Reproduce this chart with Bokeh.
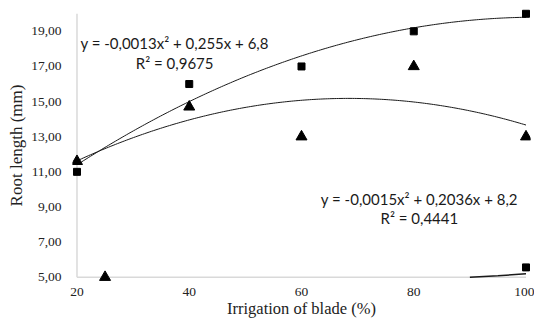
import numpy as np
from bokeh.plotting import figure
from bokeh.models import FixedTicker, Label, Range1d
from bokeh.embed import file_html
from bokeh.resources import INLINE

# ---- data ----
irrigation = [20, 40, 60, 80, 100]
square_len = [11.0, 16.0, 17.0, 19.0, 20.0]
triangle_len = [11.6, 14.7, 13.0, 17.0, 13.0]
stray_tri_x = [25]
stray_tri_y = [5.0]
stray_sq_x = [100]
stray_sq_y = [5.56]
stray_line_x = [90, 95, 100]
stray_line_y = [5.0, 5.08, 5.2]
x_min, x_max = 20, 100
y_min, y_max = 5, 20
x_ticks = [20, 40, 60, 80, 100]
y_ticks = [5, 7, 9, 11, 13, 15, 17, 19]
y_tick_labels = ["5,00", "7,00", "9,00", "11,00", "13,00", "15,00", "17,00", "19,00"]
eq_square = ["y = -0,0013x\u00b2 + 0,255x + 6,8", "R\u00b2 = 0,9675"]
eq_triangle = ["y = -0,0015x\u00b2 + 0,2036x + 8,2", "R\u00b2 = 0,4441"]

SERIF = "Liberation Serif"
SANS = "Lato"

p = figure(width=534, height=320, output_backend="svg", toolbar_location=None,
           x_range=Range1d(x_min - 0.8, x_max + 0.8), y_range=Range1d(y_min - 0.3, y_max + 0.3))
p.min_border_left = 72
p.min_border_right = 4
p.min_border_top = 8
p.min_border_bottom = 36
p.outline_line_color = None
p.grid.visible = False
p.background_fill_color = "white"
p.border_fill_color = "white"

for ax in (p.xaxis[0], p.yaxis[0]):
    ax.axis_line_color = None
    ax.major_tick_line_color = None
    ax.minor_tick_line_color = None
    ax.major_tick_out = 0
    ax.major_tick_in = 0
    ax.major_label_text_font = SERIF
    ax.major_label_text_font_size = "13.5px"
    ax.major_label_text_color = "#222222"
    ax.axis_label_text_font = SERIF
    ax.axis_label_text_font_style = "normal"
    ax.axis_label_text_color = "#222222"

p.xaxis[0].ticker = FixedTicker(ticks=x_ticks)
p.xaxis[0].major_label_standoff = 5
p.xaxis[0].axis_label = "Irrigation of blade (%)"
p.xaxis[0].axis_label_text_font_size = "16.5px"
p.xaxis[0].axis_label_standoff = 0

p.yaxis[0].ticker = FixedTicker(ticks=y_ticks)
p.yaxis[0].major_label_overrides = {t: l for t, l in zip(y_ticks, y_tick_labels)}
p.yaxis[0].major_label_standoff = 11
p.yaxis[0].axis_label = "Root length (mm)"
p.yaxis[0].axis_label_text_font_size = "17px"
p.yaxis[0].axis_label_standoff = 2

# axis lines at the data bounds
p.segment(x0=[x_min, x_min], y0=[y_min, y_min], x1=[x_min, x_max], y1=[y_max, y_min],
          line_color="#d9d9d9", line_width=1.5)

# trend lines (quadratic fits of the series)
xs = np.linspace(irrigation[0], irrigation[-1], 200)
for ys in (square_len, triangle_len):
    c = np.polyfit(irrigation, ys, 2)
    p.line(xs, np.polyval(c, xs), line_color="#1a1a1a", line_width=1)
p.line(stray_line_x, stray_line_y, line_color="#1a1a1a", line_width=1.5)

p.scatter(irrigation, square_len, marker="square", size=7, color="black")
p.scatter(stray_sq_x, stray_sq_y, marker="square", size=7, color="black")
p.scatter(irrigation, triangle_len, marker="triangle", size=11, color="black")
p.scatter(stray_tri_x, stray_tri_y, marker="triangle", size=11, color="black")

for (x, y), txt in zip([(37.4, 18.33), (37.4, 17.2)], eq_square):
    p.add_layout(Label(x=x, y=y, text=txt, text_align="center", text_baseline="middle",
                       text_font=SANS, text_font_size="15px", text_color="#1a1a1a"))
for (x, y), txt in zip([(81.0, 9.48), (81.0, 8.36)], eq_triangle):
    p.add_layout(Label(x=x, y=y, text=txt, text_align="center", text_baseline="middle",
                       text_font=SANS, text_font_size="15px", text_color="#1a1a1a"))

open("out.html", "w").write(file_html(p, INLINE))
